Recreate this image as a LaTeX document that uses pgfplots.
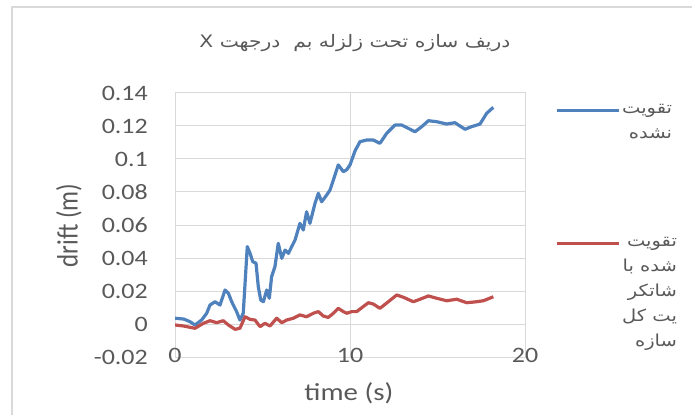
\documentclass[border=0pt]{standalone}
\usepackage{fontspec}
\usepackage{graphicx}
\usepackage{pgfplots}
\usepackage{pgfplotstable}
\pgfplotsset{compat=1.18}
\setmainfont{Carlito}[FakeStretch=1.18]
\newfontfamily\plainfont{Carlito}
\newfontfamily\arabicfont[Script=Arabic, FakeStretch=1.18]{DejaVu Sans}
\TeXXeTstate=1

\definecolor{xlblue}{HTML}{4F81BD}
\definecolor{xlred}{HTML}{C0504D}
\definecolor{gridgray}{HTML}{D9D9D9}
\definecolor{textgray}{HTML}{595959}

% time (s), drift (m)
\pgfplotstableread{
t v
0 0.0035
0.5 0.003
0.86 0.0014
1.14 -0.0006
1.52 0.0024
1.81 0.0065
2.0 0.0115
2.29 0.0135
2.57 0.0115
2.86 0.0206
3.05 0.0186
3.24 0.0135
3.52 0.0075
3.71 0.0024
3.9 0.0065
4.13 0.0469
4.29 0.0428
4.44 0.0378
4.63 0.0368
4.76 0.0226
4.9 0.0145
5.05 0.0135
5.24 0.0206
5.39 0.0156
5.52 0.0287
5.71 0.0347
5.9 0.0489
6.1 0.0398
6.29 0.0448
6.48 0.0428
6.67 0.0469
6.86 0.0509
7.14 0.061
7.33 0.057
7.52 0.068
7.71 0.061
8.0 0.0731
8.19 0.0792
8.38 0.0741
8.67 0.0782
8.86 0.0812
9.05 0.0873
9.33 0.0964
9.62 0.0923
9.81 0.0935
10.0 0.0964
10.29 0.105
10.57 0.1105
10.95 0.1115
11.33 0.1115
11.71 0.1095
12.1 0.1156
12.57 0.1206
12.95 0.1206
13.33 0.1186
13.71 0.1165
14.1 0.1196
14.48 0.1232
14.95 0.1226
15.52 0.1212
16.0 0.122
16.57 0.118
16.95 0.1196
17.43 0.1212
17.81 0.1277
18.19 0.1313
}\unretrofitted

\pgfplotstableread{
t v
0 -0.0006
0.48 -0.0012
1.14 -0.0026
1.62 0.0004
2.0 0.002
2.38 0.0008
2.76 0.002
3.05 -0.0006
3.43 -0.0032
3.71 -0.0026
4.0 0.0044
4.29 0.0028
4.57 0.0024
4.86 -0.0016
5.14 0.0004
5.43 -0.0012
5.81 0.0035
6.1 0.0008
6.38 0.0024
6.76 0.0035
7.14 0.0055
7.52 0.0044
7.9 0.0065
8.19 0.0075
8.48 0.0048
8.76 0.004
9.05 0.0065
9.33 0.0095
9.62 0.0075
9.81 0.0065
10.1 0.0075
10.38 0.0075
11.05 0.0129
11.33 0.0121
11.71 0.0095
12.19 0.0135
12.67 0.0176
13.05 0.0162
13.62 0.0135
14.0 0.015
14.48 0.017
14.95 0.0156
15.52 0.0141
16.1 0.015
16.67 0.0129
17.24 0.0135
17.62 0.0141
18.19 0.0165
}\retrofitted

\begin{document}
\begin{tikzpicture}
\useasboundingbox (0,0) rectangle (692pt,415pt);
\draw[gridgray, line width=2pt] (12pt,0) -- (12pt,408pt) -- (692pt,408pt);
\begin{axis}[
  at={(175pt,58pt)}, anchor=south west,
  scale only axis, width=350pt, height=264pt,
  xmin=0, xmax=20, ymin=-0.02, ymax=0.14,
  xtick={0,10,20}, xticklabels={0,10,20},
  ytick={-0.02,0,0.02,0.04,0.06,0.08,0.1,0.12,0.14},
  yticklabels={-0.02,0,0.02,0.04,0.06,0.08,0.1,0.12,0.14},
  grid=major, grid style={gridgray, line width=1pt},
  axis line style={gridgray, line width=1pt},
  major tick length=0pt, tick style={draw=none},
  tick label style={font=\fontsize{22}{22}\selectfont, text=textgray},
  xticklabel style={anchor=center, inner sep=0pt, yshift=1.5pt},
  yticklabel style={anchor=east, inner sep=0pt, xshift=-27pt},
  xlabel={time (s)},
  xlabel style={at={(axis description cs:0.497,-0.136)}, anchor=center,
    font=\fontsize{24.5}{24.5}\selectfont, text=textgray},
  ylabel={\scalebox{1}[1.18]{\plainfont drift (m)}},
  ylabel style={at={(axis description cs:-0.303,0.498)}, anchor=center,
    font=\fontsize{25}{25}\selectfont, text=textgray},
  title={\arabicfont\beginR دریف سازه تحت زلزله بم\ \ درجهت X\endR},
  title style={at={(axis description cs:0.514,1.165)}, anchor=center,
    font=\fontsize{17.2}{17.2}\selectfont, text=textgray},
  legend style={draw=none, fill=none, at={(axis description cs:1.0857,0.99)},
    anchor=north west, inner sep=0pt, outer sep=0pt, row sep=114pt, column sep=2pt,
    nodes={inner sep=0pt, anchor=base west, text=textgray}},
  legend image code/.code={\draw[#1] (0pt,0.3em) -- (62pt,0.3em);},
]
\addplot[xlblue, line width=3.2pt, line join=round] table[x=t, y=v] {\unretrofitted};
\addlegendentry{\fontsize{16.5}{25}\selectfont\begin{tabular}[t]{@{}r@{}}\arabicfont\beginR تقویت\endR\\\arabicfont\beginR نشده\endR\end{tabular}}
\addplot[xlred, line width=3.2pt, line join=round] table[x=t, y=v] {\retrofitted};
\addlegendentry{\fontsize{16.5}{25}\selectfont\begin{tabular}[t]{@{}r@{}}\arabicfont\beginR تقویت\endR\\\arabicfont\beginR شده با\endR\\\arabicfont\beginR شاتکر\endR\\\arabicfont\beginR یت کل\endR\\\arabicfont\beginR سازه\endR\end{tabular}}
\end{axis}
\end{tikzpicture}
\end{document}
